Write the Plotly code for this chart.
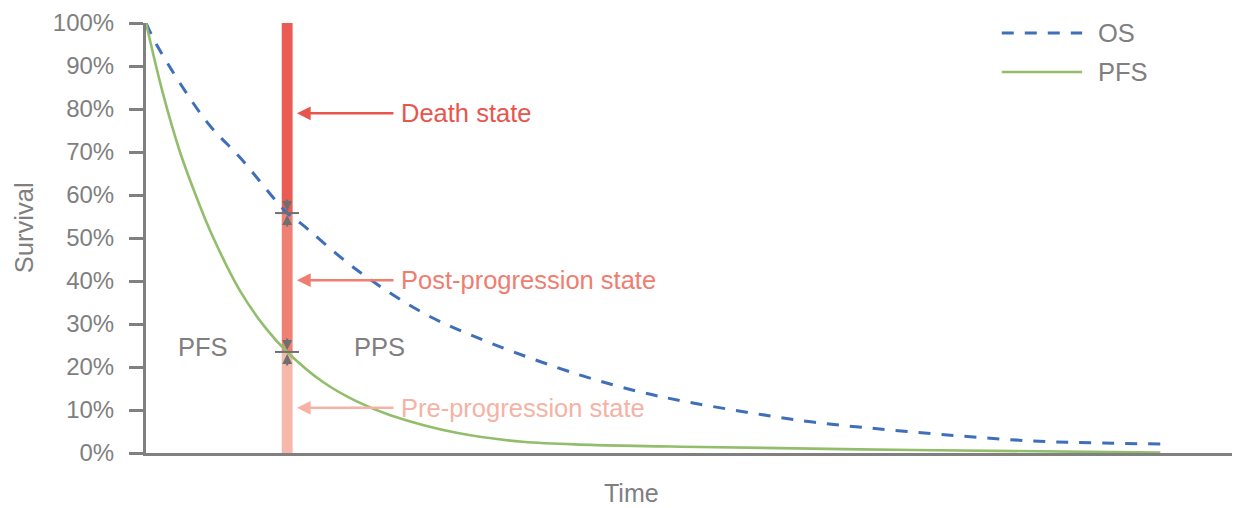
import plotly.graph_objects as go

# ---- data ----
os_time = [0, 1.1, 5.6, 8.7, 13.0, 14.2, 19.4, 25.5, 31.7, 40.0, 45.5, 49.8, 55.3, 61.4, 70.6, 81.7, 93.4]
os_surv = [100, 94.4, 77.0, 68.6, 55.8, 53.5, 42.6, 32.6, 25.6, 18.1, 14.2, 11.9, 9.5, 7.2, 4.9, 2.8, 2.1]

pfs_time = [0, 1.57, 3.13, 4.79, 6.08, 8.66, 11.1, 13.0, 16.3, 19.4, 22.5, 28.6, 34.7, 40.9, 51.0, 70.6, 93.4]
pfs_surv = [100, 83.5, 70.0, 58.6, 50.7, 37.7, 28.8, 23.5, 16.5, 12.0, 8.8, 4.7, 2.6, 1.9, 1.4, 0.7, 0.1]

cut_time = 13.0
state_bounds = [0, 23.5, 55.8, 100]          # pre / post / death boundaries at cut_time
state_names = ["Pre-progression state", "Post-progression state", "Death state"]
state_arrow_y = [10.5, 40.2, 79.0]
bar_colors = ["#F5B8AB", "#EF8174", "#E95B53"]
text_colors = ["#F5B2A5", "#EF7D70", "#E8554D"]

region_labels = ["PFS", "PPS"]
region_x = [5.25, 21.5]
region_y = 24.7

y_ticks = list(range(0, 101, 10))
y_ticklabels = [f"{v}%" for v in y_ticks]

GRAY = "#7F7F7F"
FONT = "Liberation Sans, Arial, sans-serif"

fig = go.Figure()

# stacked state bar at the cut time
for i in range(3):
    fig.add_trace(go.Bar(
        x=[cut_time], y=[state_bounds[i + 1] - state_bounds[i]], base=[state_bounds[i]],
        width=1.0, marker=dict(color=bar_colors[i], line=dict(width=0)),
        showlegend=False, hoverinfo="skip"))

fig.add_trace(go.Scatter(x=os_time, y=os_surv, mode="lines", name="OS",
                         line=dict(color="#3F6FB8", width=3, dash="12px,11px", shape="spline", smoothing=1.0),
                         showlegend=False))
fig.add_trace(go.Scatter(x=pfs_time, y=pfs_surv, mode="lines", name="PFS",
                         line=dict(color="#92BE6C", width=2.6, shape="spline", smoothing=1.0),
                         showlegend=False))

annotations = []
shapes = []

# boundary markers on the bar
for yb in state_bounds[1:3]:
    shapes.append(dict(type="line", xref="x", yref="y", x0=cut_time - 1.12, x1=cut_time + 1.09,
                       y0=yb, y1=yb, line=dict(color="#707070", width=2)))
    for ay in (-15, 15):
        annotations.append(dict(x=cut_time, y=yb, xref="x", yref="y", text="", showarrow=True,
                                ax=0, ay=ay, arrowhead=2, arrowsize=1.0, arrowwidth=2,
                                arrowcolor="#6F6F6F", standoff=2))

# state arrows & labels
for name, yv, col in zip(state_names, state_arrow_y, text_colors):
    annotations.append(dict(x=13.9, y=yv, xref="x", yref="y", text="", showarrow=True,
                            ax=98, ay=0, arrowhead=2, arrowsize=1.1, arrowwidth=2.5,
                            arrowcolor=col, standoff=0))
    annotations.append(dict(x=23.3, y=yv, xref="x", yref="y", text=name, showarrow=False,
                            xanchor="left", yanchor="middle",
                            font=dict(family=FONT, size=25.5, color=col)))

for lab, xv in zip(region_labels, region_x):
    annotations.append(dict(x=xv, y=region_y, xref="x", yref="y", text=lab, showarrow=False,
                            xanchor="center", yanchor="middle",
                            font=dict(family=FONT, size=25.5, color=GRAY)))

# axis titles
annotations.append(dict(x=-0.1123, y=0.523, xref="paper", yref="paper", text="Survival",
                        showarrow=False, textangle=-90, xanchor="center", yanchor="middle",
                        font=dict(family=FONT, size=25.5, color=GRAY)))
annotations.append(dict(x=0.4466, y=-0.093, xref="paper", yref="paper", text="Time",
                        showarrow=False, xanchor="center", yanchor="middle", borderpad=0,
                        font=dict(family=FONT, size=25, color=GRAY)))

# manual legend
legend_items = [("OS", 0.9767, dict(color="#3F6FB8", width=3, dash="12px,11px")),
                ("PFS", 0.886, dict(color="#92BE6C", width=2.6))]
for lab, yv, ln in legend_items:
    shapes.append(dict(type="line", xref="paper", yref="paper", x0=0.788, x1=0.862,
                       y0=yv, y1=yv, line=ln))
    annotations.append(dict(x=0.8745, y=yv, xref="paper", yref="paper", text=lab,
                            showarrow=False, xanchor="left", yanchor="middle",
                            font=dict(family=FONT, size=25.5, color=GRAY)))

fig.update_layout(
    template="none",
    width=1248, height=508,
    margin=dict(l=146, r=16, t=23, b=55, pad=0),
    paper_bgcolor="white", plot_bgcolor="white",
    barmode="overlay", showlegend=False,
    annotations=annotations, shapes=shapes,
    font=dict(family=FONT, color=GRAY),
)
fig.update_xaxes(range=[0, 100], showgrid=False, zeroline=False, showticklabels=False,
                 ticks="", showline=True, linecolor="#808080", linewidth=3, automargin=False)
fig.update_yaxes(range=[0, 100], showgrid=False, zeroline=False, tickmode="array",
                 tickvals=y_ticks, ticktext=y_ticklabels, ticks="outside", ticklen=14,
                 tickwidth=2.5, tickcolor="#808080", showline=True, linecolor="#808080",
                 linewidth=3, tickfont=dict(family=FONT, size=24, color=GRAY),
                 ticklabelstandoff=10, automargin=False)

fig.write_html("out.html", config={"responsive": False, "displayModeBar": False},
               post_script="document.body.style.margin='0px';document.body.style.overflow='hidden';")
